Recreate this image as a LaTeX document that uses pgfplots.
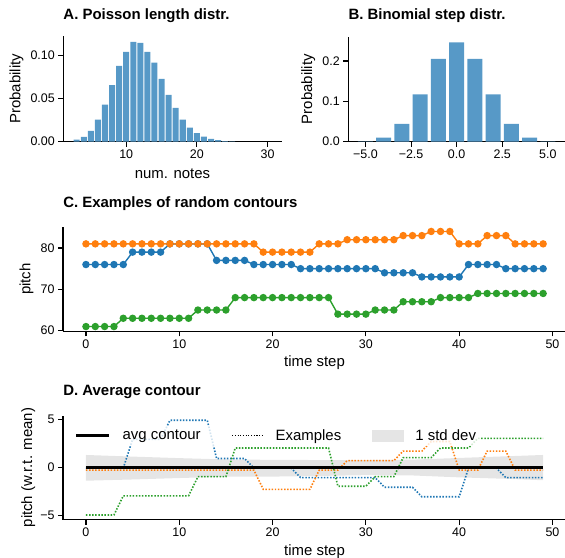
\documentclass[border=0pt]{standalone}
\usepackage{fontspec}
\setmainfont{Liberation Sans}
\usepackage{pgfplots}
\pgfplotsset{compat=1.18}
\definecolor{tabblue}{RGB}{31,119,180}
\definecolor{taborange}{RGB}{255,127,14}
\definecolor{tabgreen}{RGB}{44,160,44}
\definecolor{barblue}{RGB}{87,153,199}
\definecolor{bandgray}{RGB}{229,229,229}
\pgfplotsset{
  base/.style={
    scale only axis,
    anchor=north west,
    axis lines=left,
    axis line style={-, line width=1.4pt, black},
    tick align=outside,
    major tick length=5pt,
    every tick/.style={black, line width=1.1pt},
    tick label style={font=\fontsize{12.5}{14}\selectfont},
    /pgf/number format/assume math mode=true,
    label style={font=\fontsize{15}{18}\selectfont},
    title style={font=\bfseries\fontsize{15}{18}\selectfont, at={(0,1)}, anchor=base west, inner sep=0pt},
    xlabel style={at={(axis description cs:0.5,0)}, anchor=base, inner sep=0pt},
  },
  cont/.style={line width=1.4pt, mark=*, mark size=3pt, mark options={solid}},
  ex/.style={line width=1.6pt, dash pattern=on 1.5pt off 1.6pt},
  lineleg/.style={legend image code/.code={\draw[##1] (0pt,0pt) -- (#1,0pt);}},
  patchleg/.style={legend image code/.code={\fill[bandgray, fill opacity=1] (0pt,-5.3pt) rectangle (31pt,5.3pt);}},
}
\begin{document}
\begin{tikzpicture}
\useasboundingbox (0,0) rectangle (565bp,-558bp);
% ---------------- A
\begin{axis}[base, at={(63.3bp,-36bp)}, width=218.4bp, height=105.7bp,
  xmin=1.1, xmax=32, ymin=0, ymax=0.1223,
  xtick={10,20,30}, ytick={0,0.05,0.1}, yticklabels={0.00,0.05,0.10},
  xlabel={num. notes}, xlabel style={yshift=-37pt},
  ylabel={Probability}, ylabel style={at={([xshift=-43pt]axis description cs:0,0.5)}, anchor=base, inner sep=0pt},
  title={A. Poisson length distr.}, title style={yshift=11pt}]
\addplot[ybar, bar width=0.85, fill=barblue, draw=none] coordinates {
(3,0.0025) (4,0.0055) (5,0.0125) (6,0.0255) (7,0.043) (8,0.0656) (9,0.0876)
(10,0.104) (11,0.1154) (12,0.1143) (13,0.104) (14,0.0915) (15,0.0726)
(16,0.0541) (17,0.039) (18,0.0255) (19,0.0162) (20,0.010) (21,0.0058)
(22,0.0033) (23,0.0017) (24,0.0008) (25,0.0004)};
\end{axis}
% ---------------- B
\begin{axis}[base, at={(348.3bp,-36.7bp)}, width=216.7bp, height=105bp,
  xmin=-5.94, xmax=5.94, ymin=0, ymax=0.2603,
  xtick={-5,-2.5,0,2.5,5}, xticklabels={−5.0,−2.5,0.0,2.5,5.0},
  ytick={0,0.1,0.2}, yticklabels={0.0,0.1,0.2},
  ylabel={Probability}, ylabel style={at={([xshift=-36.3pt]axis description cs:0,0.5)}, anchor=base, inner sep=0pt},
  title={B. Binomial step distr.}, title style={yshift=11.7pt}]
\addplot[ybar, bar width=0.82, fill=barblue, draw=none] coordinates {
(-5,0.001) (-4,0.0098) (-3,0.0439) (-2,0.1172) (-1,0.2051) (0,0.2461)
(1,0.2051) (2,0.1172) (3,0.0439) (4,0.0098) (5,0.001)};
\end{axis}
% ---------------- C
\begin{axis}[base, at={(63.1bp,-226.7bp)}, width=502.9bp, height=104.6bp,
  xmin=-2.45, xmax=51.45, ymin=59.85, ymax=85.15,
  xtick={0,10,20,30,40,50}, ytick={60,70,80},
  xlabel={time step}, xlabel style={yshift=-35.5pt},
  ylabel={pitch}, ylabel style={at={([xshift=-32.8pt]axis description cs:0,0.5)}, anchor=base, inner sep=0pt},
  title={C. Examples of random contours}, title style={yshift=13.4pt}]
\addplot[cont, color=tabblue] coordinates {
(0,76) (1,76) (2,76) (3,76) (4,76) (5,79) (6,79) (7,79) (8,79) (9,81)
(10,81) (11,81) (12,81) (13,81) (14,77) (15,77) (16,77) (17,77) (18,76) (19,76)
(20,76) (21,76) (22,76) (23,75) (24,75) (25,75) (26,75) (27,75) (28,75) (29,75)
(30,75) (31,75) (32,74) (33,74) (34,74) (35,74) (36,73) (37,73) (38,73) (39,73)
(40,73) (41,76) (42,76) (43,76) (44,76) (45,75) (46,75) (47,75) (48,75) (49,75)};
\addplot[cont, color=taborange] coordinates {
(0,81) (1,81) (2,81) (3,81) (4,81) (5,81) (6,81) (7,81) (8,81) (9,81)
(10,81) (11,81) (12,81) (13,81) (14,81) (15,81) (16,81) (17,81) (18,81) (19,79)
(20,79) (21,79) (22,79) (23,79) (24,79) (25,81) (26,81) (27,81) (28,82) (29,82)
(30,82) (31,82) (32,82) (33,82) (34,83) (35,83) (36,83) (37,84) (38,84) (39,84)
(40,81) (41,81) (42,81) (43,83) (44,83) (45,83) (46,81) (47,81) (48,81) (49,81)};
\addplot[cont, color=tabgreen] coordinates {
(0,61) (1,61) (2,61) (3,61) (4,63) (5,63) (6,63) (7,63) (8,63) (9,63)
(10,63) (11,63) (12,65) (13,65) (14,65) (15,65) (16,68) (17,68) (18,68) (19,68)
(20,68) (21,68) (22,68) (23,68) (24,68) (25,68) (26,68) (27,64) (28,64) (29,64)
(30,64) (31,65) (32,65) (33,65) (34,67) (35,67) (36,67) (37,67) (38,68) (39,68)
(40,68) (41,68) (42,69) (43,69) (44,69) (45,69) (46,69) (47,69) (48,69) (49,69)};
\end{axis}
% ---------------- D
\begin{axis}[base, at={(63.1bp,-415.5bp)}, width=502.9bp, height=104.2bp,
  xmin=-2.45, xmax=51.45, ymin=-5.475, ymax=5.415,
  xtick={0,10,20,30,40,50}, ytick={-5,0,5}, yticklabels={−5,0,5},
  xlabel={time step}, xlabel style={yshift=-35.5pt},
  ylabel={pitch (w.r.t. mean)}, ylabel style={at={([xshift=-31pt]axis description cs:0,0.5)}, anchor=base, inner sep=0pt},
  title={D. Average contour}, title style={yshift=13.8pt},
  legend columns=3,
  legend style={at={(0.0197,0.905)}, anchor=north west, draw=none, fill=white, fill opacity=0.8, text opacity=1,
    font=\fontsize{15}{18}\selectfont, inner sep=2pt,
    /tikz/every odd column/.append style={column sep=10pt},
    /tikz/every even column/.append style={column sep=29pt}},
]
\addplot[fill=bandgray, draw=none, forget plot] coordinates {
(0,1.29) (5,1.12) (10,0.96) (15,0.82) (20,0.78) (25,0.76) (30,0.76) (35,0.8) (40,0.98) (45,1.15) (49,1.29)
(49,-1.35) (45,-1.2) (40,-1.05) (35,-0.85) (30,-0.82) (25,-0.9) (20,-0.97) (15,-0.98) (10,-1.12) (5,-1.27) (0,-1.4)};
\addplot[ex, color=tabblue, forget plot] coordinates {
(0,-0.08) (1,-0.08) (2,-0.08) (3,-0.08) (4,-0.08) (5,2.92) (6,2.92) (7,2.92) (8,2.92) (9,4.92)
(10,4.92) (11,4.92) (12,4.92) (13,4.92) (14,0.92) (15,0.92) (16,0.92) (17,0.92) (18,-0.08) (19,-0.08)
(20,-0.08) (21,-0.08) (22,-0.08) (23,-1.08) (24,-1.08) (25,-1.08) (26,-1.08) (27,-1.08) (28,-1.08) (29,-1.08)
(30,-1.08) (31,-1.08) (32,-2.08) (33,-2.08) (34,-2.08) (35,-2.08) (36,-3.08) (37,-3.08) (38,-3.08) (39,-3.08)
(40,-3.08) (41,-0.08) (42,-0.08) (43,-0.08) (44,-0.08) (45,-1.08) (46,-1.08) (47,-1.08) (48,-1.08) (49,-1.08)};
\addplot[ex, color=taborange, forget plot] coordinates {
(0,-0.3) (1,-0.3) (2,-0.3) (3,-0.3) (4,-0.3) (5,-0.3) (6,-0.3) (7,-0.3) (8,-0.3) (9,-0.3)
(10,-0.3) (11,-0.3) (12,-0.3) (13,-0.3) (14,-0.3) (15,-0.3) (16,-0.3) (17,-0.3) (18,-0.3) (19,-2.3)
(20,-2.3) (21,-2.3) (22,-2.3) (23,-2.3) (24,-2.3) (25,-0.3) (26,-0.3) (27,-0.3) (28,0.7) (29,0.7)
(30,0.7) (31,0.7) (32,0.7) (33,0.7) (34,1.7) (35,1.7) (36,1.7) (37,2.7) (38,2.7) (39,2.7)
(40,-0.3) (41,-0.3) (42,-0.3) (43,1.7) (44,1.7) (45,1.7) (46,-0.3) (47,-0.3) (48,-0.3) (49,-0.3)};
\addplot[ex, color=tabgreen, forget plot] coordinates {
(0,-4.98) (1,-4.98) (2,-4.98) (3,-4.98) (4,-2.98) (5,-2.98) (6,-2.98) (7,-2.98) (8,-2.98) (9,-2.98)
(10,-2.98) (11,-2.98) (12,-0.98) (13,-0.98) (14,-0.98) (15,-0.98) (16,2.02) (17,2.02) (18,2.02) (19,2.02)
(20,2.02) (21,2.02) (22,2.02) (23,2.02) (24,2.02) (25,2.02) (26,2.02) (27,-1.98) (28,-1.98) (29,-1.98)
(30,-1.98) (31,-0.98) (32,-0.98) (33,-0.98) (34,1.02) (35,1.02) (36,1.02) (37,1.02) (38,2.02) (39,2.02)
(40,2.02) (41,2.02) (42,3.02) (43,3.02) (44,3.02) (45,3.02) (46,3.02) (47,3.02) (48,3.02) (49,3.02)};
\addplot[black, line width=2.6pt, forget plot] coordinates {(0,0) (10,0) (20,0) (30,0) (40,0) (49,0)};
\addlegendimage{black, line width=2.6pt, lineleg=33pt}
\addlegendentry{avg contour}
\addlegendimage{black, line width=1.2pt, dash pattern=on 1.1pt off 1.6pt, lineleg=31pt}
\addlegendentry{Examples}
\addlegendimage{patchleg}
\addlegendentry{1 std dev}
\end{axis}
\end{tikzpicture}
\end{document}
